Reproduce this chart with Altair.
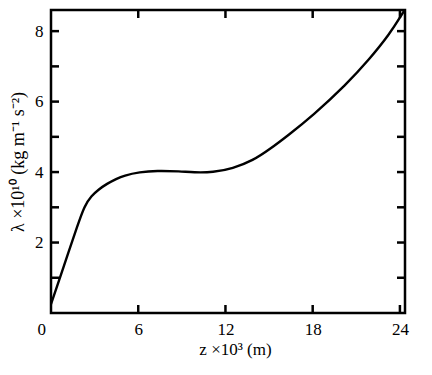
import altair as alt
import pandas as pd

# Curve (z in 10^3 m, lambda in 10^10 kg m^-1 s^-2)
z_vals = [0.0, 0.6, 1.2, 1.8, 2.3, 2.8, 3.25, 3.85, 4.5, 5.0, 6.1, 7.25,
          8.9, 9.8, 11.15, 12.5, 13.9, 15.05, 16.3, 18.0, 20.3, 21.9,
          23.3, 24.1, 24.4]
lam_vals = [0.25, 0.98, 1.72, 2.45, 3.05, 3.33, 3.5, 3.67, 3.81, 3.9,
            4.0, 4.04, 4.02, 3.99, 3.99, 4.1, 4.33, 4.65, 5.04, 5.6,
            6.48, 7.2, 7.92, 8.45, 8.65]

x_label_vals = [0, 6, 12, 18, 24]
y_label_vals = [2, 4, 6, 8]
x_tick_vals = [6, 12, 18, 24]
y_tick_vals = [1, 2, 3, 4, 5, 6, 7, 8]

W, H = 354, 303
TL = 8
FONT = "Times New Roman, Liberation Serif, serif"

xs = alt.Scale(domain=[0, 24.35], nice=False, zero=False)
ys = alt.Scale(domain=[0, 8.6], nice=False, zero=False)
xaxis = alt.Axis(values=x_label_vals, title="z ×10³ (m)",
                 labelPadding=8, titlePadding=4, titleX=184,
                 labelOffset=alt.ExprRef(expr="datum.value == 0 ? -14 : 0"))
yaxis = alt.Axis(values=y_label_vals, title="λ ×10¹⁰ (kg m⁻¹ s⁻²)",
                 labelPadding=8, titlePadding=7, titleFontSize=18)

curve = alt.Chart(pd.DataFrame({"v": z_vals, "w": lam_vals})).mark_line(
    color="black", strokeWidth=2.4, clip=True, interpolate="basis"
).encode(
    x=alt.X("v:Q", scale=xs, axis=xaxis),
    y=alt.Y("w:Q", scale=ys, axis=yaxis),
)

xt = pd.DataFrame({"v": x_tick_vals})
yt = pd.DataFrame({"w": y_tick_vals})

bottom = alt.Chart(xt).mark_rule(color="black", strokeWidth=2.5).encode(
    x=alt.X("v:Q", scale=xs, axis=xaxis), y=alt.value(H), y2=alt.value(H - TL))
top = alt.Chart(xt).mark_rule(color="black", strokeWidth=2.5).encode(
    x=alt.X("v:Q", scale=xs, axis=xaxis), y=alt.value(0), y2=alt.value(TL))
left = alt.Chart(yt).mark_rule(color="black", strokeWidth=2.5).encode(
    y=alt.Y("w:Q", scale=ys, axis=yaxis), x=alt.value(0), x2=alt.value(TL))
right = alt.Chart(yt).mark_rule(color="black", strokeWidth=2.5).encode(
    y=alt.Y("w:Q", scale=ys, axis=yaxis), x=alt.value(W - TL), x2=alt.value(W))

chart = alt.layer(curve, bottom, top, left, right).properties(
    width=W, height=H,
    autosize=alt.AutoSizeParams(type="none"),
    padding={"left": 43, "top": 2, "right": 19, "bottom": 54},
).configure_view(
    stroke="black", strokeWidth=2.5
).configure_axis(
    domain=False, ticks=False, grid=False,
    labelFont=FONT, titleFont=FONT, labelFontSize=17, titleFontSize=17,
    titleFontWeight="normal", labelColor="black", titleColor="black",
)

chart.save("out.html", embed_options={"renderer": "svg", "actions": False})
